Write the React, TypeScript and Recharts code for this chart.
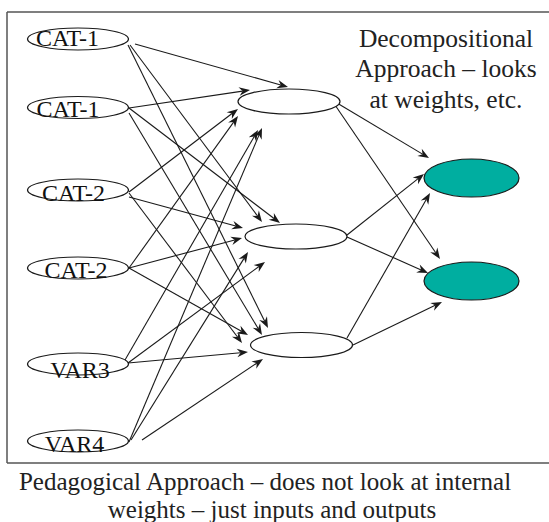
import React from 'react';
import { ScatterChart, Scatter, XAxis, YAxis, ReferenceLine } from 'recharts';

// ---- data (diagram coordinates) ----
const inputLabels = ['CAT-1', 'CAT-1', 'CAT-2', 'CAT-2', 'VAR3', 'VAR4'];
const inputX = [78, 78, 78, 78, 78, 78];
const inputY = [39, 107.5, 190, 268, 364, 441];
const hiddenX = [289, 296, 301.5];
const hiddenY = [101.5, 236.5, 345];
const outputX = [471.5, 471.5];
const outputY = [178, 281];

// input -> hidden edges: start point and arrow tip
const ihStart: [number, number][] = [
  [135, 44], [130, 45], [128, 45],
  [129, 108], [129, 108], [129, 113],
  [129, 192], [129, 197], [129, 193],
  [129, 268], [129, 268], [129, 268],
  [125, 360], [128, 363], [128, 363],
  [129, 442], [131, 440], [142, 440],
];
const ihEnd: [number, number][] = [
  [288, 87], [262, 222], [268, 328],
  [250, 90], [280, 223], [262, 335],
  [238, 109], [243, 228], [242, 343],
  [238, 116], [242, 238], [248, 335],
  [258, 130], [265, 262], [248, 352],
  [262, 128], [248, 252], [263, 359],
];
// hidden -> output edges
const hoStart: [number, number][] = [
  [337, 103], [335, 105],
  [347, 235], [347, 237],
  [347, 338], [353, 345],
];
const hoEnd: [number, number][] = [
  [429, 158], [440, 259],
  [424, 174], [428, 273],
  [430, 193], [442, 302],
];

const topNote = ['Decompositional', 'Approach \u2013 looks', 'at weights, etc.'];
const bottomNote = ['Pedagogical Approach \u2013 does not look at internal', 'weights \u2013 just inputs and outputs'];

// ---- styles ----
const FONT = "'Liberation Serif', 'Times New Roman', Tinos, serif";
const INK = '#1a1a1a';
const TEAL = '#00AEA0';
const labelDx = [-10.5, -10, -4.5, -2, 2, -3.5];
const labelDy = [7.5, 9.5, 11, 10, 14, 11];
const W = 549;
const H = 522;

const inputData = inputLabels.map((label, i) => ({ x: inputX[i], y: inputY[i], label, i }));
const hiddenData = hiddenX.map((x, i) => ({ x, y: hiddenY[i] }));
const outputData = outputX.map((x, i) => ({ x, y: outputY[i] }));

const Arrow = (props: any) => {
  const { x1, y1, x2, y2 } = props;
  const dx = x2 - x1;
  const dy = y2 - y1;
  const len = Math.hypot(dx, dy) || 1;
  const ux = dx / len;
  const uy = dy / len;
  const px = -uy;
  const py = ux;
  const L = 11;
  const HW = 4.3;
  const N = 7.5;
  const bx = x2 - ux * L;
  const by = y2 - uy * L;
  const nx = x2 - ux * N;
  const ny = y2 - uy * N;
  const pts = `${x2},${y2} ${bx + px * HW},${by + py * HW} ${nx},${ny} ${bx - px * HW},${by - py * HW}`;
  return (
    <g>
      <line x1={x1} y1={y1} x2={nx} y2={ny} stroke={INK} strokeWidth={1.1} />
      <polygon points={pts} fill={INK} />
    </g>
  );
};

const InputNode = (p: any) => (
  <ellipse cx={p.cx} cy={p.cy} rx={50.5} ry={11} fill="none" stroke={INK} strokeWidth={1.2} />
);

const HiddenNode = (p: any) => (
  <ellipse cx={p.cx} cy={p.cy} rx={51} ry={12.5} fill="#fff" stroke={INK} strokeWidth={1.2} />
);

const OutputNode = (p: any) => (
  <ellipse cx={p.cx} cy={p.cy} rx={47.5} ry={19} fill={TEAL} stroke={INK} strokeWidth={1.2} />
);

// HTML text placed by centre x and baseline y (1 diagram unit = 1 px)
const Label = ({ x, y, size, color, children }: any) => (
  <div
    style={{
      position: 'absolute',
      left: x - 300,
      top: y - 0.8375 * size,
      width: 600,
      textAlign: 'center',
      fontFamily: FONT,
      fontSize: size,
      lineHeight: size + 'px',
      whiteSpace: 'nowrap',
      color,
      pointerEvents: 'none',
    }}
  >
    {children}
  </div>
);

const FRAME = '#555';

export default function App() {
  return (
    <div style={{ position: 'absolute', left: 0, top: 0, width: W, height: H, overflow: 'hidden' }}>
      <ScatterChart width={W} height={H} margin={{ top: 0, right: 0, bottom: 0, left: 0 }}>
        <XAxis dataKey="x" type="number" domain={[0, W]} hide allowDataOverflow />
        <YAxis dataKey="y" type="number" domain={[0, H]} reversed hide allowDataOverflow />
        <ReferenceLine segment={[{ x: 7, y: 12 }, { x: 549, y: 12 }]} stroke={FRAME} strokeWidth={1.5} ifOverflow="visible" />
        <ReferenceLine segment={[{ x: 7, y: 12 }, { x: 7, y: 463 }]} stroke={FRAME} strokeWidth={1.5} ifOverflow="visible" />
        <ReferenceLine segment={[{ x: 7, y: 463 }, { x: 549, y: 463 }]} stroke={FRAME} strokeWidth={1.5} ifOverflow="visible" />
        {ihStart.map((s, i) => (
          <ReferenceLine
            key={'ih' + i}
            segment={[{ x: s[0], y: s[1] }, { x: ihEnd[i][0], y: ihEnd[i][1] }]}
            shape={Arrow}
            ifOverflow="visible"
          />
        ))}
        {hoStart.map((s, i) => (
          <ReferenceLine
            key={'ho' + i}
            segment={[{ x: s[0], y: s[1] }, { x: hoEnd[i][0], y: hoEnd[i][1] }]}
            shape={Arrow}
            ifOverflow="visible"
          />
        ))}
        <Scatter data={inputData} isAnimationActive={false} shape={(p: any) => <InputNode {...p} />} />
        <Scatter data={hiddenData} isAnimationActive={false} shape={(p: any) => <HiddenNode {...p} />} />
        <Scatter data={outputData} isAnimationActive={false} shape={(p: any) => <OutputNode {...p} />} />
      </ScatterChart>
      {inputData.map((d) => (
        <Label key={'l' + d.i} x={d.x + labelDx[d.i]} y={d.y + labelDy[d.i]} size={24} color="#111">
          {d.label}
        </Label>
      ))}
      {topNote.map((t, i) => (
        <Label key={'t' + i} x={446} y={47 + i * 30.5} size={25.5} color="#222">
          {t}
        </Label>
      ))}
      <Label x={265} y={490} size={25} color="#222">
        {bottomNote[0]}
      </Label>
      <Label x={272} y={518} size={25} color="#222">
        {bottomNote[1]}
      </Label>
    </div>
  );
}
